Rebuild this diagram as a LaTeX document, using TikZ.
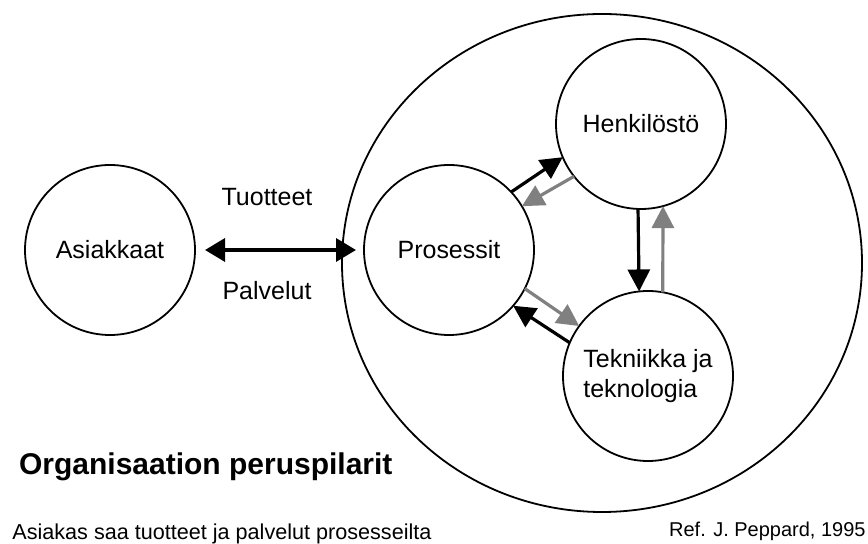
\documentclass[tikz,border=0pt]{standalone}
\usepackage{fontspec}
\setmainfont{Liberation Sans}
\usetikzlibrary{arrows.meta}
\definecolor{arrowgray}{gray}{0.5}
\begin{document}
\begin{tikzpicture}[x=0.5pt, y=-0.5pt,
  pillar/.style={draw, circle, line width=0.9pt, minimum size=85pt, inner sep=0pt, outer sep=0pt,
    align=left, font=\fontsize{12.5}{15}\selectfont},
  lbl/.style={font=\fontsize{12.5}{15}\selectfont},
  blackarr/.style={line width=1.6pt, -{Triangle[length=11pt, width=11pt]}},
  grayarr/.style={line width=1.6pt, color=arrowgray, -{Triangle[length=11pt, width=11pt]}}]
  \useasboundingbox (0,0) rectangle (868,544);
  % the organisation
  \draw[line width=0.9pt] (602,263) ellipse [x radius=260, y radius=249];
  \node[pillar] (asi) at (110,250) {Asiakkaat};
  \node[pillar] (pro) at (449,250) {Prosessit};
  \node[pillar] (hen) at (641,124) {Henkilöstö};
  \node[pillar] (tek) at (648,376) {Tekniikka ja\\teknologia};
  % customer <-> processes
  \draw[line width=1.7pt, {Triangle[length=10pt, width=11.5pt]}-{Triangle[length=10pt, width=11.5pt]},
    shorten <=5pt, shorten >=4pt] (asi) -- (pro);
  \node[lbl] (tuo) at (267,197) {Tuotteet};
  \node[lbl] (pal) at (267,291) {Palvelut};
  % between the pillars
  \draw[blackarr] (pro.43.6) -- (hen.203.4);
  \draw[grayarr] (hen.218) -- (pro.31);
  \draw[blackarr] (hen.268.6) -- (tek.96);
  \draw[grayarr] (tek.80) -- (hen.285.2);
  \draw[grayarr] (pro.333.7) -- (tek.144.3);
  \draw[blackarr] (tek.157) -- (pro.319.5);
  % texts
  \node[anchor=base west, font=\fontsize{15}{18}\selectfont\bfseries] (head) at (12,475) {Organisaation peruspilarit};
  \node[anchor=base west, font=\fontsize{10.8}{13}\selectfont, inner sep=0pt] (note) at (12,540) {Asiakas saa tuotteet ja palvelut prosesseilta};
  \node[anchor=base east, font=\fontsize{10}{12}\selectfont, inner sep=0pt] (ref) at (866,537) {Ref. J. Peppard, 1995};
\end{tikzpicture}
\end{document}
